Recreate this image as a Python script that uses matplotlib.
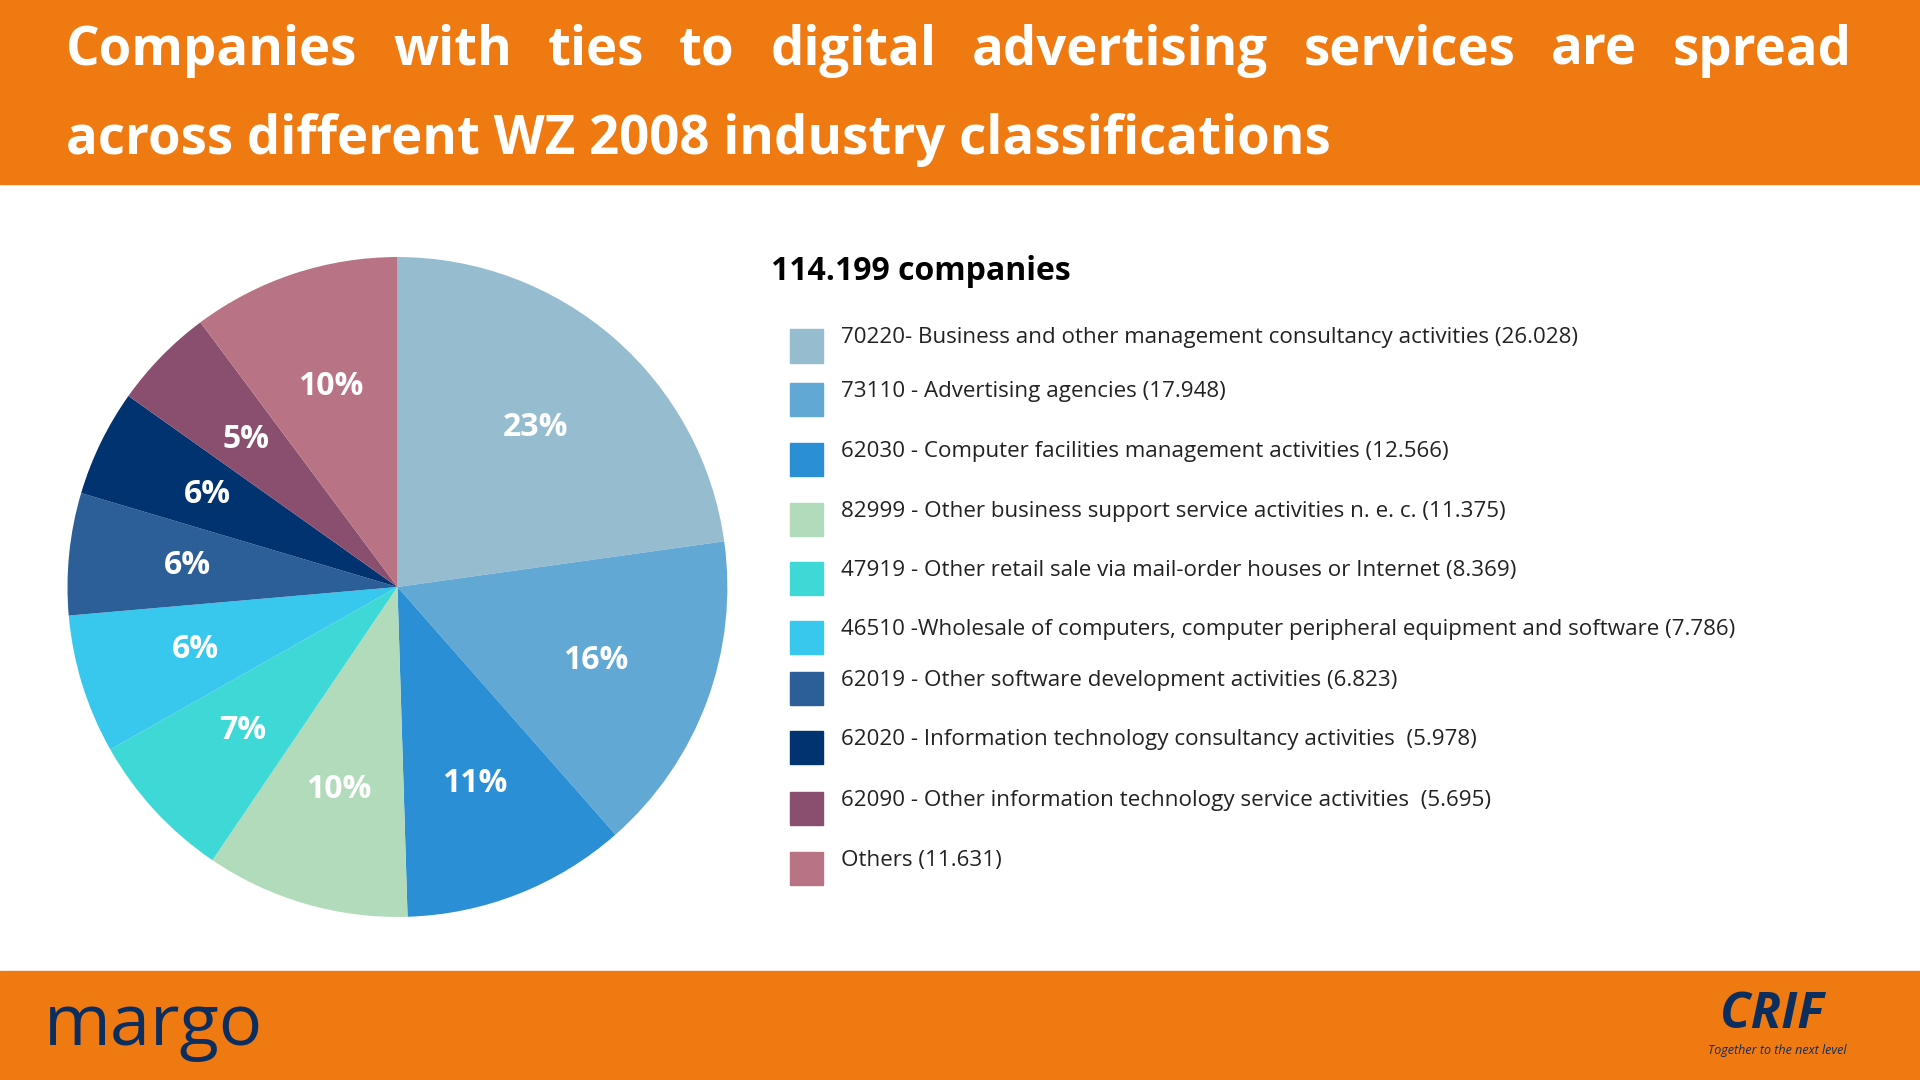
import matplotlib.pyplot as plt
from matplotlib.patches import Rectangle
import numpy as np

plt.rcParams['font.family'] = ['Open Sans', 'DejaVu Sans']

labels = ["70220- Business and other management consultancy activities (26.028)",
          "73110 - Advertising agencies (17.948)",
          "62030 - Computer facilities management activities (12.566)",
          "82999 - Other business support service activities n. e. c. (11.375)",
          "47919 - Other retail sale via mail-order houses or Internet (8.369)",
          "46510 -Wholesale of computers, computer peripheral equipment and software (7.786)",
          "62019 - Other software development activities (6.823)",
          "62020 - Information technology consultancy activities  (5.978)",
          "62090 - Other information technology service activities  (5.695)",
          "Others (11.631)"]
values = [26028, 17948, 12566, 11375, 8369, 7786, 6823, 5978, 5695, 11631]
pct_labels = ["23%", "16%", "11%", "10%", "7%", "6%", "6%", "6%", "5%", "10%"]
colors = ["#96BCD0", "#62A8D4", "#2B8FD6", "#B2DBBB", "#3ED9D6",
          "#38C8EE", "#2C5F98", "#003370", "#8A4F6E", "#B87384"]
orange = "#F07A12"

fig = plt.figure(figsize=(19.2, 10.8), dpi=100)
fig.patches.append(Rectangle((0, 0.83), 1, 0.17, transform=fig.transFigure, color=orange, zorder=0))
fig.patches.append(Rectangle((0, 0), 1, 0.101, transform=fig.transFigure, color=orange, zorder=0))

# justified title, first line
words = "Companies with ties to digital advertising services are spread".split()
x0, x1 = 54 / 1568, 1512 / 1568
fig.canvas.draw()
r = fig.canvas.get_renderer()
texts = [fig.text(0, 0.953, w, fontsize=38, fontweight='bold', color='white', va='center') for w in words]
widths = [t.get_window_extent(r).width / 1920 for t in texts]
gap = (x1 - x0 - sum(widths)) / (len(words) - 1)
x = x0
for t, w in zip(texts, widths):
    t.set_x(x)
    x += w + gap
fig.text(x0, 0.870, "across different WZ 2008 industry classifications", fontsize=38,
         fontweight='bold', color='white', va='center')

ax = fig.add_axes([0.035, 0.151, 0.344, 0.611])
wedges, _ = ax.pie(values, colors=colors, startangle=90, counterclock=False,
                   wedgeprops=dict(linewidth=0))
for wdg, lab in zip(wedges, pct_labels):
    ang = np.deg2rad((wdg.theta1 + wdg.theta2) / 2)
    rr = 0.64
    ax.text(rr * np.cos(ang), rr * np.sin(ang), lab, color='white', fontsize=23,
            fontweight='bold', ha='center', va='center')
ax.set_xlim(-1, 1)
ax.set_ylim(-1, 1)
ax.set_aspect('equal')

fig.text(630 / 1568, 1 - 222 / 882, "114.199 companies", fontsize=23, fontweight='bold',
         color='black', va='center')
rows = [282, 326, 375, 424, 472, 520, 562, 610, 660, 709]
for y, lab, c in zip(rows, labels, colors):
    yf = 1 - y / 882
    fig.patches.append(Rectangle((645 / 1568, yf - 0.016), 27 / 1568, 0.031,
                                 transform=fig.transFigure, color=c))
    fig.text(687 / 1568, yf + 0.007, lab, fontsize=16.1, color='#222222', va='center')

fig.text(36 / 1568, 0.05, "margo", fontsize=52, color='#0B2E5E', va='center')
fig.text(1405 / 1568, 0.06, "CRIF", fontsize=36, fontweight='bold', style='italic',
         color='#0B2E5E', va='center')
fig.text(1395 / 1568, 0.027, "Together to the next level", fontsize=9, style='italic',
         color='#0B2E5E', va='center')

fig.savefig('out.png', dpi=100)
